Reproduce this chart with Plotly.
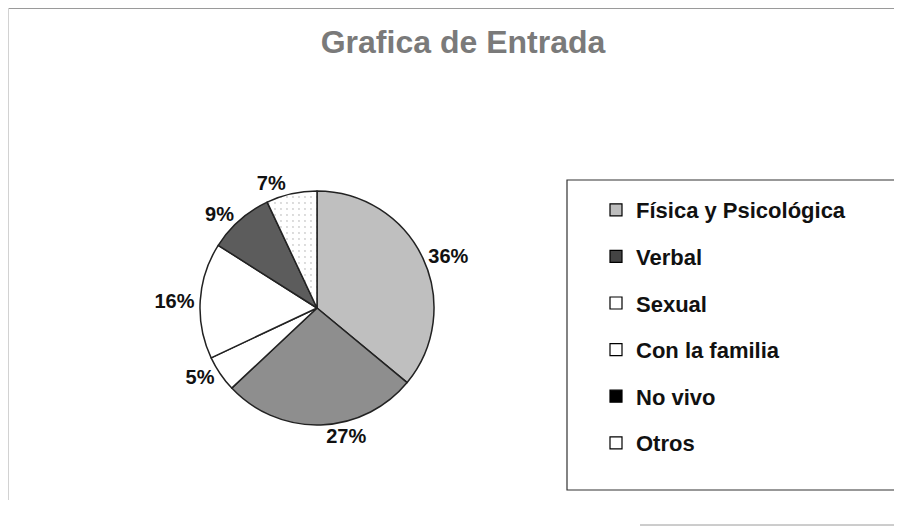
import plotly.graph_objects as go

# datos
categorias = ["Física y Psicológica", "Verbal", "Sexual", "Con la familia", "No vivo", "Otros"]
porcentajes = [36, 27, 5, 16, 9, 7]

colores_pie = ["#bfbfbf", "#8e8e8e", "#ffffff", "#ffffff", "#5c5c5c", "#f7f7f7"]
colores_leyenda = ["#bdbdbd", "#444444", "#ffffff", "#ffffff", "#000000", "#ffffff"]

# la pagina deja 8px de margen en el body, asi que la figura mide 894x521
W, H = 894, 521


def px(x):
    return (x - 8) / W


def py(y):
    return 1 - (y - 8) / H


fig = go.Figure()

fig.add_trace(go.Pie(
    labels=categorias, values=porcentajes,
    sort=False, direction="clockwise", rotation=0,
    marker=dict(colors=colores_pie, line=dict(color="#222222", width=1.5),
                pattern=dict(shape=["", "", "", "", "", "."],
                             fgcolor=["#000", "#000", "#000", "#000", "#000", "#d0d0d0"],
                             size=6, solidity=0.08)),
    texttemplate="%{percent:.0%}", textposition="outside",
    textfont=dict(family="Liberation Sans", size=20, color="#111111", weight="bold"),
    showlegend=False, hoverinfo="label+percent",
    domain=dict(x=[px(200), px(434)], y=[py(425), py(191)]),
))

# leyenda con trazas vacias para poder separar las entradas
for nombre, color in zip(categorias, colores_leyenda):
    fig.add_trace(go.Scatter(
        x=[None], y=[None], mode="markers", name=nombre, legendgroup=nombre,
        marker=dict(symbol="square", size=12, color=color, line=dict(color="black", width=1.2)),
    ))

fig.update_xaxes(visible=False)
fig.update_yaxes(visible=False)

fig.update_layout(
    width=W, height=H,
    margin=dict(l=0, r=0, t=0, b=0),
    paper_bgcolor="white", plot_bgcolor="white",
    font=dict(family="Liberation Sans", color="#111111"),
    title=dict(text="<b>Grafica de Entrada</b>", x=px(463), xanchor="center", y=py(42), yanchor="middle",
               font=dict(family="Liberation Sans", size=32, color="#7a7a7a")),
    legend=dict(x=px(596), y=py(189), xanchor="left", yanchor="top",
                tracegroupgap=15, bgcolor="rgba(0,0,0,0)",
                font=dict(family="Liberation Sans", size=22, color="#111111", weight="bold")),
    shapes=[
        dict(type="rect", xref="paper", yref="paper", x0=px(567), x1=px(895),
             y0=py(490), y1=py(180), line=dict(color="#333333", width=1.2)),
        dict(type="line", xref="paper", yref="paper", x0=0, x1=1,
             y0=py(8.5), y1=py(8.5), line=dict(color="#9a9a9a", width=1)),
        dict(type="line", xref="paper", yref="paper", x0=px(8.5), x1=px(8.5),
             y0=py(8), y1=py(500), line=dict(color="#d2d2d2", width=1)),
        dict(type="line", xref="paper", yref="paper", x0=px(640), x1=1,
             y0=py(525), y1=py(525), line=dict(color="#9a9a9a", width=1)),
    ],
)

fig.write_html("out.html")
